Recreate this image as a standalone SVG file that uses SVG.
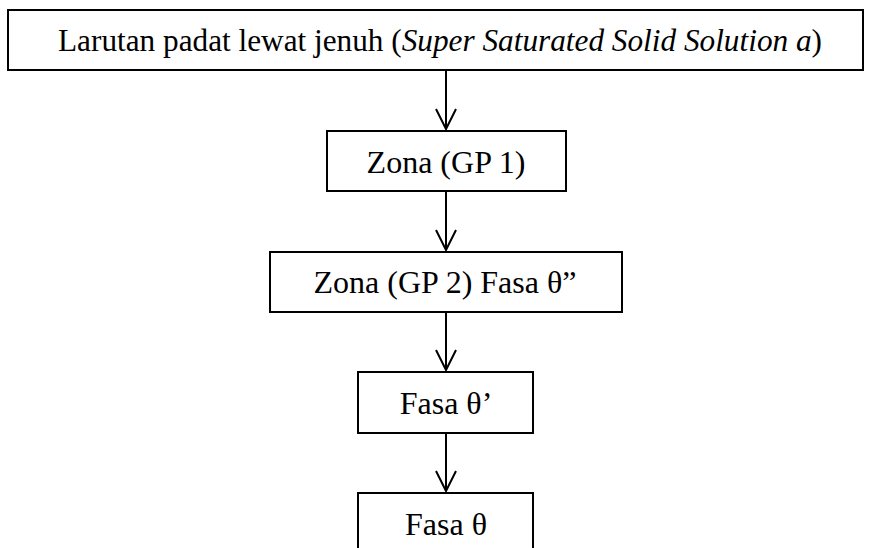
<svg xmlns="http://www.w3.org/2000/svg" width="872" height="548" viewBox="0 0 872 548">
<style>
.box{fill:#fff;stroke:#000;stroke-width:2}
.t{font-family:"Liberation Serif","Times New Roman",serif;font-size:32px;fill:#000;text-anchor:middle}
.i{font-family:"Liberation Serif","Times New Roman",serif;font-style:italic}
.c{stroke:#000;stroke-width:2;fill:none}
</style>
<rect width="872" height="548" fill="#fff"/>
<g id="n1"><rect class="box" x="8" y="10" width="855" height="60"/>
<text class="t" x="440" y="51" textLength="764" lengthAdjust="spacingAndGlyphs">Larutan padat lewat jenuh (<tspan class="i">Super Saturated Solid Solution a</tspan>)</text></g>
<g id="n2"><rect class="box" x="327" y="131" width="239" height="60"/><text class="t" x="446" y="173">Zona (GP 1)</text></g>
<g id="n3"><rect class="box" x="270" y="252" width="352" height="60"/><text class="t" x="445" y="293">Zona (GP 2) Fasa θ”</text></g>
<g id="n4"><rect class="box" x="358" y="372" width="175" height="61"/><text class="t" x="446" y="414">Fasa θ’</text></g>
<g id="n5"><rect class="box" x="358" y="493" width="175" height="61"/><text class="t" x="446" y="535">Fasa θ</text></g>
<g id="connectors">
<path class="c" d="M446 70V129M436 109L446 129L456 109"/>
<path class="c" d="M446 191V250M436 230L446 250L456 230"/>
<path class="c" d="M446 312V370M436 350L446 370L456 350"/>
<path class="c" d="M446 433V491M436 471L446 491L456 471"/>
</g>
</svg>
